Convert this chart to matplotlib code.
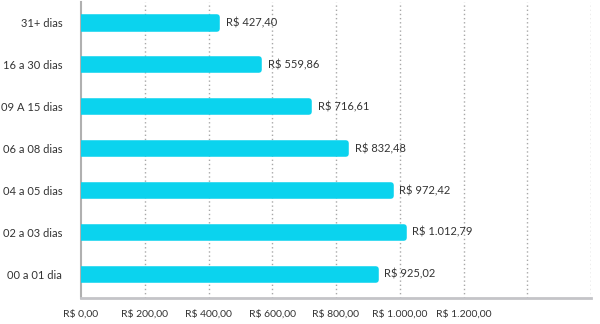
import matplotlib
matplotlib.use("Agg")
import matplotlib.pyplot as plt
from matplotlib.ticker import FixedLocator, FuncFormatter

categories = ["00 a 01 dia", "02 a 03 dias", "04 a 05 dias", "06 a 08 dias",
              "09 A 15 dias", "16 a 30 dias", "31+ dias"]
values = [925.02, 1012.79, 972.42, 832.48, 716.61, 559.86, 427.40]
grid_ticks = [200, 400, 600, 800, 1000, 1200, 1400, 1600]
label_ticks = [0, 200, 400, 600, 800, 1000, 1200]


def brl(v):
    s = f"{v:,.2f}"
    s = s.replace(",", "X").replace(".", ",").replace("X", ".")
    return "R$ " + s


plt.rcParams["font.family"] = ["Lato", "DejaVu Sans"]
fig = plt.figure(figsize=(6, 3.24), dpi=100)
ax = fig.add_axes([0.135, 0.080, 0.850, 0.914])

bar_color = "#0BD3EE"
ypos = list(range(len(categories)))
ax.barh(ypos, values, height=0.27, color=bar_color, edgecolor=bar_color,
        linewidth=4, joinstyle="round", zorder=3)

for y, v in zip(ypos, values):
    ax.annotate(brl(v), xy=(v, y), xytext=(6, 0), textcoords="offset points",
                ha="left", va="center", fontsize=8, color="#333333", zorder=4)

ax.set_xlim(0, 1600)
ax.set_ylim(-0.57, 6.5)

for g in grid_ticks:
    ax.axvline(g, color="#a8a8a8", linestyle=(0, (1, 2)), linewidth=1, zorder=1)

ax.xaxis.set_major_locator(FixedLocator(label_ticks))
ax.xaxis.set_major_formatter(FuncFormatter(lambda v, p: brl(v)))
ax.set_yticks(ypos)
ax.set_yticklabels(categories)
ax.tick_params(axis="x", length=0, pad=8, labelsize=7.5, labelcolor="#333333")
ax.tick_params(axis="y", length=0, pad=13.5, labelsize=8, labelcolor="#333333")

for s in ["top", "right"]:
    ax.spines[s].set_visible(False)
ax.spines["left"].set_color("#b0b0b0")
ax.spines["left"].set_linewidth(1.5)
ax.spines["bottom"].set_color("#c4c4c8")
ax.spines["bottom"].set_linewidth(2)

fig.savefig("out.png", dpi=100)
